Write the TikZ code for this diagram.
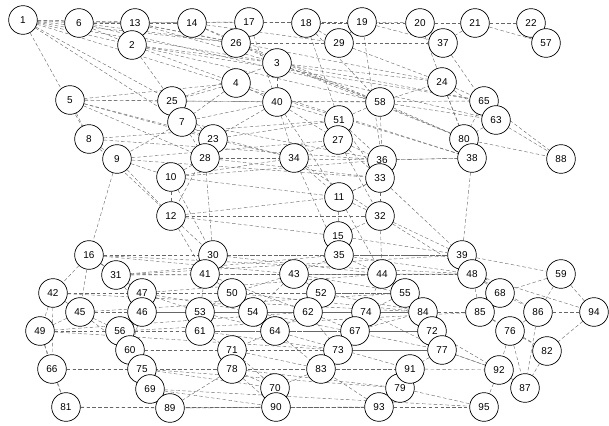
\documentclass[tikz,border=0pt]{standalone}
\usepackage{fontspec}
\setmainfont{Liberation Sans}
\usepackage{tikz}
\usetikzlibrary{arrows.meta, positioning, calc, backgrounds}

\begin{document}
\begin{tikzpicture}[
    x=0.03cm, y=-0.03cm,
    vtx/.style={draw, circle, fill=white, minimum size=0.86cm, inner sep=0pt, line width=0.6pt, font=\fontsize{8.5}{10}\selectfont},
    link/.style={densely dashed, draw=black!60, line width=0.35pt}
]
\useasboundingbox (0,0) rectangle (609,426);

% vertices
\foreach \n/\x/\y in {1/23/20, 6/79/23, 13/135/23, 2/132/45, 14/192/23, 17/249/22, 26/236/43,
    18/306/23, 29/339/43, 19/362/22, 20/420/23, 37/443/43, 21/475/23, 22/531/23, 57/546/43,
    3/277/63, 4/236/83, 40/277/102, 5/70/100, 25/172/101, 7/182/122, 58/380/102, 24/442/82,
    65/484/101, 63/496/120, 51/339/120, 27/338/140, 23/213/139, 28/205/158, 8/89/139, 9/117/159,
    34/294/158, 36/382/160, 33/380/178, 80/464/139, 38/472/158, 88/561/159, 10/171/177,
    12/171/216, 11/339/197, 32/380/216, 15/338/236, 35/339/255, 39/462/255, 48/472/274,
    59/561/274, 16/89/255, 31/116/275, 30/213/255, 41/205/274, 43/294/274, 44/382/274,
    42/53/293, 45/80/312, 47/142/293, 46/142/312, 49/40/331, 56/120/331, 60/130/350,
    66/52/369, 75/142/369, 69/150/389, 81/66/407, 89/170/408, 53/200/312, 61/200/331,
    50/232/293, 54/253/312, 64/275/331, 52/321/293, 62/308/312, 74/366/312, 67/355/331,
    73/338/350, 71/232/350, 78/232/369, 83/321/369, 70/275/388, 90/276/407, 93/379/407,
    79/400/388, 91/410/369, 55/405/293, 84/423/312, 72/432/331, 77/442/350, 68/500/293,
    85/480/312, 86/538/312, 94/594/312, 76/510/331, 82/547/351, 92/499/370, 87/525/388,
    95/484/407}
  \node[vtx] (n\n) at (\x,\y) {\n};

% links
\begin{scope}[on background layer]
\foreach \a/\b in {1/6, 1/13, 1/14, 1/2, 1/26, 1/3, 1/25, 1/7, 1/8, 6/13, 6/2, 6/17, 13/2,
    13/14, 13/26, 14/17, 14/26, 17/18, 26/3, 26/29, 18/29, 18/58, 19/29, 19/20, 19/37, 19/36,
    20/37, 20/21, 20/24, 21/37, 21/22, 21/57, 22/57, 2/4, 2/3, 2/25, 3/40, 3/58, 3/24, 4/25,
    4/5, 4/40, 4/7, 5/25, 5/8, 5/23, 25/7, 25/23, 7/28, 7/23, 7/9, 40/51, 40/34, 40/27, 58/36,
    58/24, 24/65, 24/63, 65/63, 65/80, 63/80, 63/88, 80/38, 80/88, 38/39, 38/36, 51/27, 51/58,
    27/34, 27/36, 23/28, 23/34, 28/10, 28/34, 8/9, 9/10, 9/12, 9/16, 10/12, 10/34, 34/11,
    36/33, 33/32, 33/11, 11/32, 11/15, 32/39, 32/44, 12/30, 12/15, 15/35, 35/43, 35/44,
    16/31, 16/30, 16/42, 16/45, 31/47, 31/41, 30/41, 41/50, 41/53, 43/52, 43/50, 43/54,
    44/55, 44/74, 39/48, 39/59, 48/68, 48/85, 48/94, 59/94, 59/86, 68/86, 68/85, 85/76,
    86/76, 86/94, 76/82, 76/92, 82/87, 92/87, 92/95, 92/77, 84/72, 84/85, 84/55, 55/74,
    72/77, 77/91, 91/79, 79/93, 93/95, 93/83, 42/45, 42/49, 45/46, 45/49, 47/46, 46/56,
    56/60, 60/75, 75/69, 69/89, 66/75, 66/81, 81/89, 49/66, 53/61, 61/71, 50/54, 54/64,
    64/71, 71/78, 78/70, 70/90, 52/62, 62/64, 62/73, 74/67, 67/73, 73/83, 83/70, 67/72,
    90/89, 90/93, 78/89, 61/64, 53/50, 47/53}
  \draw[link] (n\a) -- (n\b);
\foreach \a/\b in {1/38, 6/63, 13/24, 14/58, 2/65, 26/80, 5/34, 8/36, 9/33, 16/39, 31/48,
    42/84, 45/55, 49/73, 66/91, 81/93, 60/77, 56/85, 46/74, 30/44, 12/32, 10/11, 23/51,
    28/33, 7/36, 25/58, 4/38, 3/65, 29/24, 37/63, 17/40, 18/51, 5/28, 8/12, 12/41, 10/30,
    16/43, 31/35, 41/62, 47/54, 53/64, 61/73, 71/83, 78/79, 75/70, 69/90, 60/71, 56/61,
    45/60, 49/56, 42/47, 43/55, 52/84, 62/67, 74/77, 44/48, 35/39, 15/39, 32/48, 11/44,
    34/35, 27/32, 36/38, 33/39, 58/80, 24/38, 51/33, 40/11, 23/12, 28/30}
  \draw[link] (n\a) -- (n\b);
\foreach \a/\b in {16/48, 31/39, 42/55, 45/84, 46/85, 47/44, 49/62, 56/67, 60/73, 66/83,
    75/79, 81/90, 89/93, 69/95, 53/74, 61/72, 50/84, 54/77, 64/91, 41/43, 30/35, 12/11,
    10/36, 9/27, 8/51, 5/40, 25/3, 7/40, 23/40, 28/36, 34/32, 2/58, 13/3, 6/26, 14/29,
    17/19, 18/20, 26/37, 3/80, 40/65, 51/36, 27/33, 58/63, 24/80, 65/88, 39/68, 48/86,
    59/68, 85/82, 94/82, 86/87, 76/87, 77/92, 72/92, 91/92, 79/95, 83/91, 73/77, 67/84,
    74/84, 52/55, 62/74, 64/83, 71/70, 78/90, 75/89, 60/69, 56/75, 46/60, 45/56, 42/66,
    49/81, 16/47, 31/46, 43/44, 35/48, 15/32, 11/33, 44/84}
  \draw[link] (n\a) -- (n\b);
\end{scope}
\end{tikzpicture}
\end{document}
